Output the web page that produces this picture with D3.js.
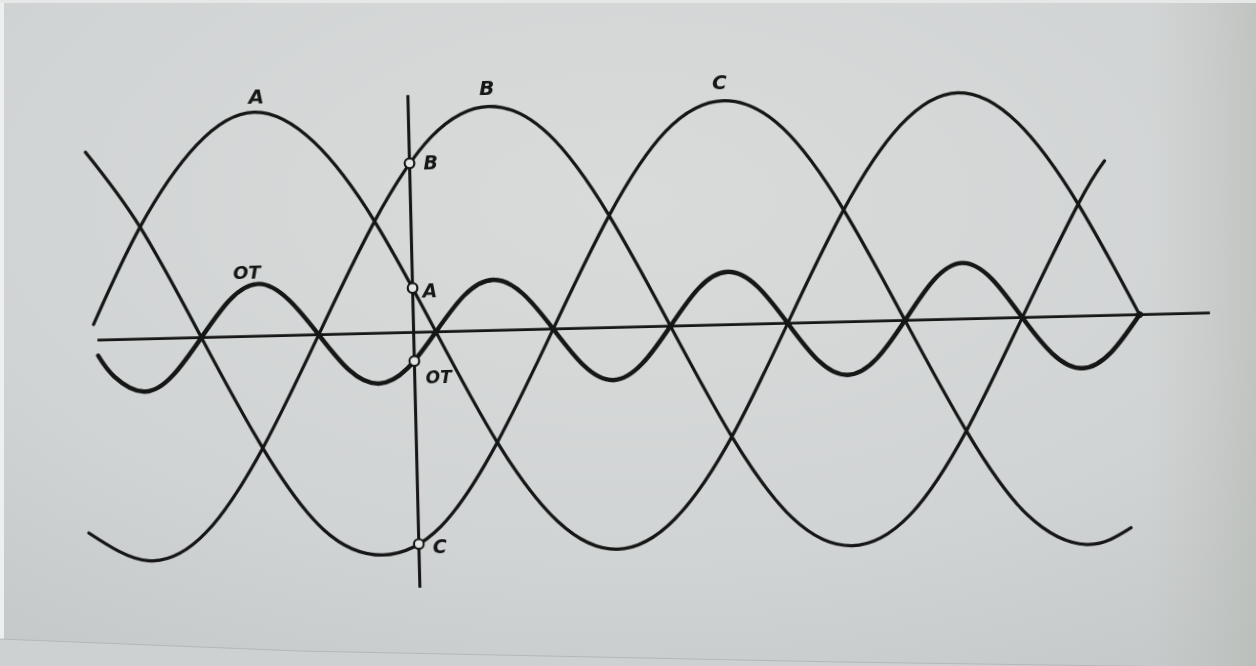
<!DOCTYPE html>
<html>
<head>
<meta charset="utf-8">
<script src="https://cdn.jsdelivr.net/npm/d3@7"></script>
<style>
  html, body { margin: 0; padding: 0; background: #d3d6d6; }
  svg { display: block; }
</style>
</head>
<body>
<svg id="chart" width="1256" height="666"></svg>
<script>
// ---- data (electrical degrees, per-unit values) ----
const thetaA = [5, 30, 60, 90, 120, 150, 180, 210, 240, 270, 300, 330, 360, 390, 420, 450, 480, 510, 540];
const waveA  = [0.07, 0.5, 0.86, 1.0, 0.86, 0.5, 0, -0.5, -0.86, -0.99, -0.86, -0.5, 0, 0.5, 0.87, 1.01, 0.87, 0.5, 0];

const thetaB = [0, 30, 60, 90, 120, 150, 180, 210, 240, 270, 300, 330, 360, 390, 420, 450, 480, 510, 524];
const waveB  = [-0.86, -0.99, -0.87, -0.5, 0, 0.5, 0.87, 1.0, 0.87, 0.5, 0, -0.5, -0.87, -1.0, -0.87, -0.5, 0, 0.5, 0.69];

const thetaC = [3, 30, 60, 90, 120, 150, 180, 210, 240, 270, 300, 330, 360, 390, 420, 450, 480, 510, 533];
const waveC  = [0.84, 0.5, 0, -0.5, -0.87, -0.99, -0.87, -0.5, 0, 0.5, 0.87, 1.0, 0.87, 0.5, 0, -0.5, -0.88, -1.02, -0.95];

const thetaOT = [7, 15, 30, 45, 60, 75, 90, 105, 120, 135, 150, 165, 180, 195, 210, 225, 240, 255, 270, 285, 300, 315, 330, 345, 360, 375, 390, 405, 420, 435, 450, 465, 480, 495, 510, 525, 540];
const waveOT  = [-0.07, -0.165, -0.235, -0.165, 0, 0.165, 0.233, 0.16, 0, -0.16, -0.225, -0.16, 0, 0.16, 0.226, 0.16, 0, -0.165, -0.235, -0.165, 0, 0.167, 0.236, 0.167, 0, -0.168, -0.237, -0.168, 0, 0.175, 0.25, 0.175, 0, -0.165, -0.233, -0.165, 0];

const waveLabels   = ["A", "B", "C", "OT"];
const labelTheta   = [91, 209, 328, 84];
const labelValue   = [1.07, 1.085, 1.085, 0.285];

const axisSpan     = [6.8, 576];          // horizontal zero line, degrees
const cursorTheta  = 168.6;               // vertical section line
const cursorSpan   = [1.06, -1.14];
const markerNames  = ["B", "A", "OT", "C"];
const markerValues = [0.755, 0.198, -0.128, -0.945];
const endDotTheta  = 540;

// ---- layout ----
const W = 1256, H = 666;
const svg = d3.select("#chart");
const defs = svg.append("defs");

const rg = defs.append("radialGradient").attr("id", "paper")
  .attr("cx", 0.5).attr("cy", 0.3).attr("r", 0.9);
rg.append("stop").attr("offset", "0%").attr("stop-color", "#d9dbdb");
rg.append("stop").attr("offset", "60%").attr("stop-color", "#d1d4d4");
rg.append("stop").attr("offset", "100%").attr("stop-color", "#c2c6c6");

const lg = defs.append("linearGradient").attr("id", "rightShade")
  .attr("x1", 0).attr("x2", 1).attr("y1", 0).attr("y2", 0);
lg.append("stop").attr("offset", "0%").attr("stop-color", "#b8bcb6").attr("stop-opacity", 0);
lg.append("stop").attr("offset", "100%").attr("stop-color", "#b4b8b2").attr("stop-opacity", 0.55);

const blur = defs.append("filter").attr("id", "soft");
blur.append("feGaussianBlur").attr("stdDeviation", 0.5);

svg.append("rect").attr("width", W).attr("height", H).attr("fill", "url(#paper)");
svg.append("rect").attr("x", 1150).attr("width", 106).attr("height", H).attr("fill", "url(#rightShade)");
// photo borders
svg.append("rect").attr("x", 0).attr("y", 0).attr("width", 4).attr("height", H).attr("fill", "#eef0f0");
svg.append("rect").attr("x", 0).attr("y", 0).attr("width", W).attr("height", 3).attr("fill", "#e6e8e8");
// next page edge at bottom
svg.append("path")
  .attr("d", "M0,639 L300,651 L840,662 L1256,668 L1256,666 L0,666 Z")
  .attr("fill", "#cdd1d2");
svg.append("path")
  .attr("d", "M0,639 L300,651 L840,662 L1256,668")
  .attr("fill", "none").attr("stroke", "#b4b8b9").attr("stroke-width", 1);

const x = d3.scaleLinear().domain([0, 600]).range([84, 84 + 1173]);
const y = d3.scaleLinear().domain([-1, 1]).range([326.6 + 224, 326.6 - 224]);

const g = svg.append("g")
  .attr("transform", "rotate(-1.4, 650, 327)")
  .attr("filter", "url(#soft)");

const ink = "#121313";
const line = d3.line().x(d => x(d[0])).y(d => y(d[1])).curve(d3.curveNatural);
const zip = (t, v) => t.map((d, i) => [d, v[i]]);

// zero axis
g.append("line")
  .attr("x1", x(axisSpan[0])).attr("x2", x(axisSpan[1]))
  .attr("y1", y(0)).attr("y2", y(0))
  .attr("stroke", ink).attr("stroke-width", 2.6);

// vertical section line
g.append("line")
  .attr("x1", x(cursorTheta)).attr("x2", x(cursorTheta))
  .attr("y1", y(cursorSpan[0])).attr("y2", y(cursorSpan[1]))
  .attr("stroke", ink).attr("stroke-width", 3);

// waves
const series = [
  { name: "A", pts: zip(thetaA, waveA), w: 3.2 },
  { name: "B", pts: zip(thetaB, waveB), w: 3.2 },
  { name: "C", pts: zip(thetaC, waveC), w: 3.2 },
  { name: "OT", pts: zip(thetaOT, waveOT), w: 4.4 }
];
g.selectAll("path.wave").data(series).enter().append("path")
  .attr("class", "wave")
  .attr("d", d => line(d.pts))
  .attr("fill", "none").attr("stroke", ink)
  .attr("stroke-width", d => d.w)
  .attr("stroke-linecap", "round");

// curve labels
g.selectAll("text.lab").data(waveLabels).enter().append("text")
  .attr("class", "lab")
  .attr("x", (d, i) => x(labelTheta[i]))
  .attr("y", (d, i) => y(labelValue[i]))
  .attr("text-anchor", "middle")
  .attr("dominant-baseline", "central")
  .attr("font-family", "'DejaVu Sans', sans-serif")
  .attr("font-style", "italic").attr("font-weight", "bold")
  .attr("font-size", (d) => d === "OT" ? 18 : 20)
  .attr("fill", ink)
  .text(d => d);

// markers on the section line
const labOffset = { B: [14, 0], A: [10, 3], OT: [11, 17], C: [14, 3] };
markerNames.forEach((n, i) => {
  const cx = x(cursorTheta), cy = y(markerValues[i]);
  g.append("circle").attr("cx", cx).attr("cy", cy).attr("r", 4.8)
    .attr("fill", "#e4e6e6").attr("stroke", ink).attr("stroke-width", 2.2);
  g.append("text")
    .attr("x", cx + labOffset[n][0]).attr("y", cy + labOffset[n][1])
    .attr("dominant-baseline", "central")
    .attr("font-family", "'DejaVu Sans', sans-serif")
    .attr("font-style", "italic").attr("font-weight", "bold")
    .attr("font-size", n === "OT" ? 17 : 19)
    .attr("fill", ink)
    .text(n);
});

// end dot on the axis
g.append("circle").attr("cx", x(endDotTheta)).attr("cy", y(0)).attr("r", 3.4).attr("fill", ink);
</script>
</body>
</html>
